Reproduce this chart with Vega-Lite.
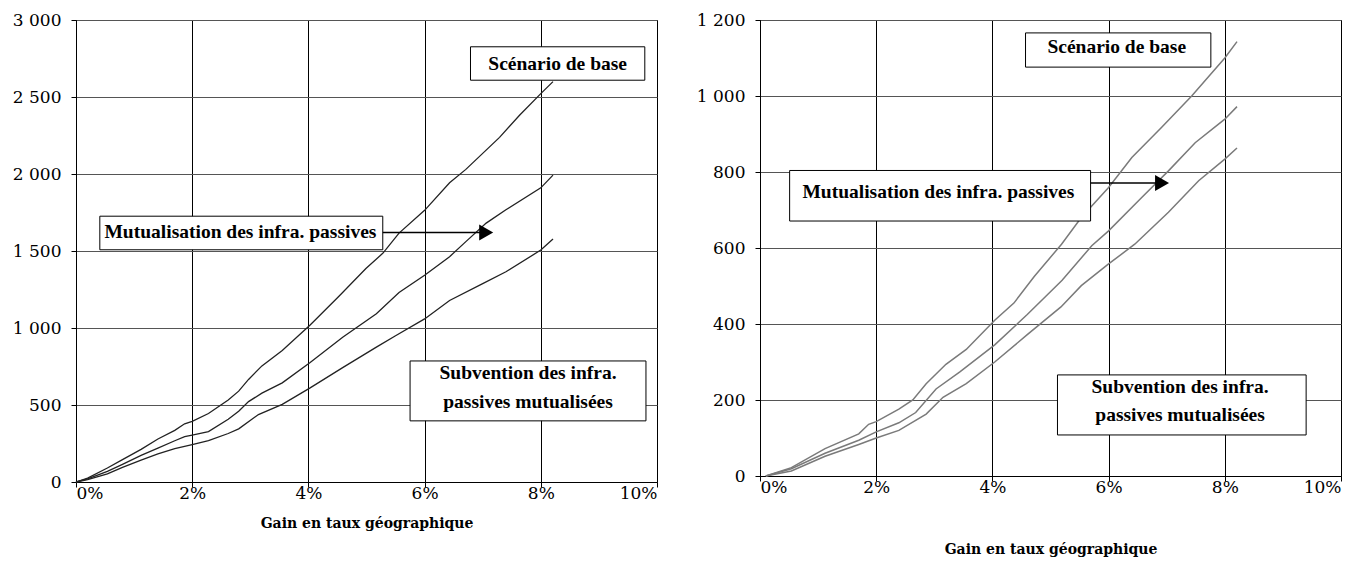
{
  "$schema": "https://vega.github.io/schema/vega-lite/v6.json",
  "background": "white",
  "padding": {"left": 11, "top": 10, "right": 5, "bottom": 2},
  "spacing": 37,
  "config": {
    "view": {"stroke": "black", "strokeWidth": 1},
    "axis": {
      "labelFont": "DejaVu Serif", "labelFontSize": 17, "labelColor": "black",
      "titleFont": "DejaVu Serif", "titleFontSize": 14, "titleFontWeight": "bold", "titleColor": "black",
      "tickColor": "black", "tickSize": 5, "domainColor": "black", "gridOpacity": 1
    }
  },
  "datasets": {
    "L": [
      {"x":0,"v":0,"s":"a"},{"x":0.2,"v":25,"s":"a"},{"x":0.54,"v":91,"s":"a"},{"x":0.8,"v":145,"s":"a"},{"x":1.12,"v":212,"s":"a"},{"x":1.41,"v":279,"s":"a"},{"x":1.7,"v":335,"s":"a"},{"x":1.87,"v":378,"s":"a"},{"x":2.0,"v":394,"s":"a"},{"x":2.28,"v":445,"s":"a"},{"x":2.62,"v":533,"s":"a"},{"x":2.8,"v":590,"s":"a"},{"x":2.97,"v":666,"s":"a"},{"x":3.2,"v":754,"s":"a"},{"x":3.55,"v":854,"s":"a"},{"x":4.03,"v":1020,"s":"a"},{"x":4.53,"v":1208,"s":"a"},{"x":4.99,"v":1386,"s":"a"},{"x":5.28,"v":1485,"s":"a"},{"x":5.56,"v":1616,"s":"a"},{"x":6.0,"v":1764,"s":"a"},{"x":6.43,"v":1943,"s":"a"},{"x":6.71,"v":2030,"s":"a"},{"x":7.29,"v":2238,"s":"a"},{"x":7.63,"v":2380,"s":"a"},{"x":8.0,"v":2522,"s":"a"},{"x":8.21,"v":2600,"s":"a"},
      {"x":0,"v":0,"s":"b"},{"x":0.2,"v":20,"s":"b"},{"x":0.54,"v":69,"s":"b"},{"x":0.8,"v":115,"s":"b"},{"x":1.12,"v":173,"s":"b"},{"x":1.41,"v":220,"s":"b"},{"x":1.7,"v":268,"s":"b"},{"x":1.87,"v":295,"s":"b"},{"x":2.0,"v":305,"s":"b"},{"x":2.28,"v":327,"s":"b"},{"x":2.62,"v":407,"s":"b"},{"x":2.8,"v":460,"s":"b"},{"x":2.97,"v":522,"s":"b"},{"x":3.2,"v":577,"s":"b"},{"x":3.55,"v":644,"s":"b"},{"x":4.03,"v":776,"s":"b"},{"x":4.59,"v":940,"s":"b"},{"x":5.17,"v":1093,"s":"b"},{"x":5.56,"v":1230,"s":"b"},{"x":6.0,"v":1343,"s":"b"},{"x":6.43,"v":1463,"s":"b"},{"x":6.71,"v":1561,"s":"b"},{"x":7.06,"v":1681,"s":"b"},{"x":7.4,"v":1768,"s":"b"},{"x":8.0,"v":1910,"s":"b"},{"x":8.21,"v":1993,"s":"b"},
      {"x":0,"v":0,"s":"c"},{"x":0.2,"v":15,"s":"c"},{"x":0.54,"v":53,"s":"c"},{"x":0.8,"v":95,"s":"c"},{"x":1.12,"v":142,"s":"c"},{"x":1.41,"v":182,"s":"c"},{"x":1.7,"v":217,"s":"c"},{"x":2.0,"v":243,"s":"c"},{"x":2.28,"v":268,"s":"c"},{"x":2.62,"v":315,"s":"c"},{"x":2.8,"v":345,"s":"c"},{"x":3.14,"v":438,"s":"c"},{"x":3.55,"v":504,"s":"c"},{"x":4.03,"v":611,"s":"c"},{"x":4.59,"v":743,"s":"c"},{"x":5.17,"v":876,"s":"c"},{"x":5.5,"v":950,"s":"c"},{"x":6.0,"v":1059,"s":"c"},{"x":6.43,"v":1179,"s":"c"},{"x":7.0,"v":1288,"s":"c"},{"x":7.4,"v":1365,"s":"c"},{"x":8.0,"v":1506,"s":"c"},{"x":8.21,"v":1578,"s":"c"}
    ],
    "R": [
      {"x":0.1,"v":0,"s":"a"},{"x":0.54,"v":22,"s":"a"},{"x":1.12,"v":72,"s":"a"},{"x":1.7,"v":111,"s":"a"},{"x":1.87,"v":136,"s":"a"},{"x":2.0,"v":143,"s":"a"},{"x":2.39,"v":176,"s":"a"},{"x":2.63,"v":200,"s":"a"},{"x":2.86,"v":243,"s":"a"},{"x":3.2,"v":294,"s":"a"},{"x":3.55,"v":333,"s":"a"},{"x":4.04,"v":410,"s":"a"},{"x":4.37,"v":455,"s":"a"},{"x":4.72,"v":525,"s":"a"},{"x":5.19,"v":610,"s":"a"},{"x":5.53,"v":680,"s":"a"},{"x":6.0,"v":759,"s":"a"},{"x":6.4,"v":838,"s":"a"},{"x":6.91,"v":917,"s":"a"},{"x":7.43,"v":1000,"s":"a"},{"x":8.0,"v":1100,"s":"a"},{"x":8.21,"v":1143,"s":"a"},
      {"x":0.1,"v":0,"s":"b"},{"x":0.54,"v":19,"s":"b"},{"x":1.12,"v":60,"s":"b"},{"x":1.7,"v":94,"s":"b"},{"x":2.0,"v":116,"s":"b"},{"x":2.39,"v":140,"s":"b"},{"x":2.68,"v":167,"s":"b"},{"x":3.03,"v":229,"s":"b"},{"x":3.44,"v":274,"s":"b"},{"x":4.04,"v":345,"s":"b"},{"x":4.6,"v":425,"s":"b"},{"x":5.2,"v":515,"s":"b"},{"x":5.71,"v":606,"s":"b"},{"x":6.0,"v":645,"s":"b"},{"x":6.57,"v":733,"s":"b"},{"x":7.03,"v":803,"s":"b"},{"x":7.49,"v":877,"s":"b"},{"x":8.0,"v":939,"s":"b"},{"x":8.21,"v":972,"s":"b"},
      {"x":0.1,"v":0,"s":"c"},{"x":0.54,"v":13,"s":"c"},{"x":1.12,"v":52,"s":"c"},{"x":1.7,"v":83,"s":"c"},{"x":2.0,"v":100,"s":"c"},{"x":2.39,"v":120,"s":"c"},{"x":2.86,"v":163,"s":"c"},{"x":3.15,"v":207,"s":"c"},{"x":3.55,"v":243,"s":"c"},{"x":4.04,"v":300,"s":"c"},{"x":4.6,"v":372,"s":"c"},{"x":5.18,"v":445,"s":"c"},{"x":5.53,"v":501,"s":"c"},{"x":6.0,"v":558,"s":"c"},{"x":6.45,"v":610,"s":"c"},{"x":7.03,"v":694,"s":"c"},{"x":7.55,"v":777,"s":"c"},{"x":8.0,"v":834,"s":"c"},{"x":8.21,"v":863,"s":"c"}
    ],
    "boxL": [
      {"x1":6.79,"x2":9.79,"y1":2609,"y2":2826},
      {"x1":0.41,"x2":5.28,"y1":1508,"y2":1726},
      {"x1":5.75,"x2":9.81,"y1":397,"y2":786}
    ],
    "textL": [
      {"x":8.29,"y":2717,"t":"Scénario de base"},
      {"x":2.83,"y":1625,"t":"Mutualisation des infra. passives"},
      {"x":7.78,"y":711,"t":"Subvention des infra."},
      {"x":7.78,"y":522,"t":"passives mutualisées"}
    ],
    "arrL": [{"x1":5.28,"x2":7.0,"y":1620}],
    "headL": [{"x":7.06,"y":1620}],
    "boxR": [
      {"x1":4.57,"x2":7.76,"y1":1076,"y2":1166},
      {"x1":0.51,"x2":5.69,"y1":671,"y2":804},
      {"x1":5.12,"x2":9.4,"y1":108,"y2":266}
    ],
    "textR": [
      {"x":6.14,"y":1129,"t":"Scénario de base"},
      {"x":3.07,"y":748,"t":"Mutualisation des infra. passives"},
      {"x":7.23,"y":235,"t":"Subvention des infra."},
      {"x":7.23,"y":161,"t":"passives mutualisées"}
    ],
    "arrR": [{"x1":5.69,"x2":6.88,"y":771}],
    "headR": [{"x":6.92,"y":771}]
  },
  "hconcat": [
    {
      "width": 581, "height": 462,
      "layer": [
        {
          "data": {"name": "L"},
          "mark": {"type": "line", "color": "#222222", "strokeWidth": 1.3},
          "encoding": {
            "x": {"field": "x", "type": "quantitative", "scale": {"domain": [0, 10], "nice": false},
              "axis": {"title": "Gain en taux géographique", "values": [0,2,4,6,8,10], "labelExpr": "datum.value + '%'", "grid": true, "gridColor": "black", "labelPadding": -1.5, "titlePadding": 15}},
            "y": {"field": "v", "type": "quantitative", "scale": {"domain": [0, 3000], "nice": false},
              "axis": {"title": null, "values": [0,500,1000,1500,2000,2500,3000], "labelExpr": "replace(format(datum.value, ','), ',', ' ')", "grid": true, "gridColor": "#555555", "labelPadding": 10}},
            "detail": {"field": "s"}
          }
        },
        {
          "data": {"name": "boxL"},
          "mark": {"type": "rect", "fill": "white", "stroke": "black", "strokeWidth": 1},
          "encoding": {"x": {"field": "x1", "type": "quantitative"}, "x2": {"field": "x2"}, "y": {"field": "y1", "type": "quantitative"}, "y2": {"field": "y2"}}
        },
        {
          "data": {"name": "textL"},
          "mark": {"type": "text", "font": "Liberation Serif", "fontWeight": "bold", "fontSize": 19.5, "color": "black", "baseline": "middle", "align": "center"},
          "encoding": {"x": {"field": "x", "type": "quantitative"}, "y": {"field": "y", "type": "quantitative"}, "text": {"field": "t"}}
        },
        {
          "data": {"name": "arrL"},
          "mark": {"type": "rule", "color": "black", "strokeWidth": 1.3},
          "encoding": {"x": {"field": "x1", "type": "quantitative"}, "x2": {"field": "x2"}, "y": {"field": "y", "type": "quantitative"}}
        },
        {
          "data": {"name": "headL"},
          "mark": {"type": "point", "shape": "triangle-right", "filled": true, "color": "black", "size": 260, "opacity": 1},
          "encoding": {"x": {"field": "x", "type": "quantitative"}, "y": {"field": "y", "type": "quantitative"}}
        }
      ]
    },
    {
      "width": 581, "height": 456,
      "layer": [
        {
          "data": {"name": "R"},
          "mark": {"type": "line", "color": "#7a7a7a", "strokeWidth": 1.5},
          "encoding": {
            "x": {"field": "x", "type": "quantitative", "scale": {"domain": [0, 10], "nice": false},
              "axis": {"title": "Gain en taux géographique", "values": [0,2,4,6,8,10], "labelExpr": "datum.value + '%'", "grid": true, "gridColor": "black", "labelPadding": -1.5, "titlePadding": 47}},
            "y": {"field": "v", "type": "quantitative", "scale": {"domain": [0, 1200], "nice": false},
              "axis": {"title": null, "values": [0,200,400,600,800,1000,1200], "labelExpr": "replace(format(datum.value, ','), ',', ' ')", "grid": true, "gridColor": "#555555", "labelPadding": 10}},
            "detail": {"field": "s"}
          }
        },
        {
          "data": {"name": "boxR"},
          "mark": {"type": "rect", "fill": "white", "stroke": "black", "strokeWidth": 1},
          "encoding": {"x": {"field": "x1", "type": "quantitative"}, "x2": {"field": "x2"}, "y": {"field": "y1", "type": "quantitative"}, "y2": {"field": "y2"}}
        },
        {
          "data": {"name": "textR"},
          "mark": {"type": "text", "font": "Liberation Serif", "fontWeight": "bold", "fontSize": 19.5, "color": "black", "baseline": "middle", "align": "center"},
          "encoding": {"x": {"field": "x", "type": "quantitative"}, "y": {"field": "y", "type": "quantitative"}, "text": {"field": "t"}}
        },
        {
          "data": {"name": "arrR"},
          "mark": {"type": "rule", "color": "black", "strokeWidth": 1.3},
          "encoding": {"x": {"field": "x1", "type": "quantitative"}, "x2": {"field": "x2"}, "y": {"field": "y", "type": "quantitative"}}
        },
        {
          "data": {"name": "headR"},
          "mark": {"type": "point", "shape": "triangle-right", "filled": true, "color": "black", "size": 260, "opacity": 1},
          "encoding": {"x": {"field": "x", "type": "quantitative"}, "y": {"field": "y", "type": "quantitative"}}
        }
      ]
    }
  ]
}
